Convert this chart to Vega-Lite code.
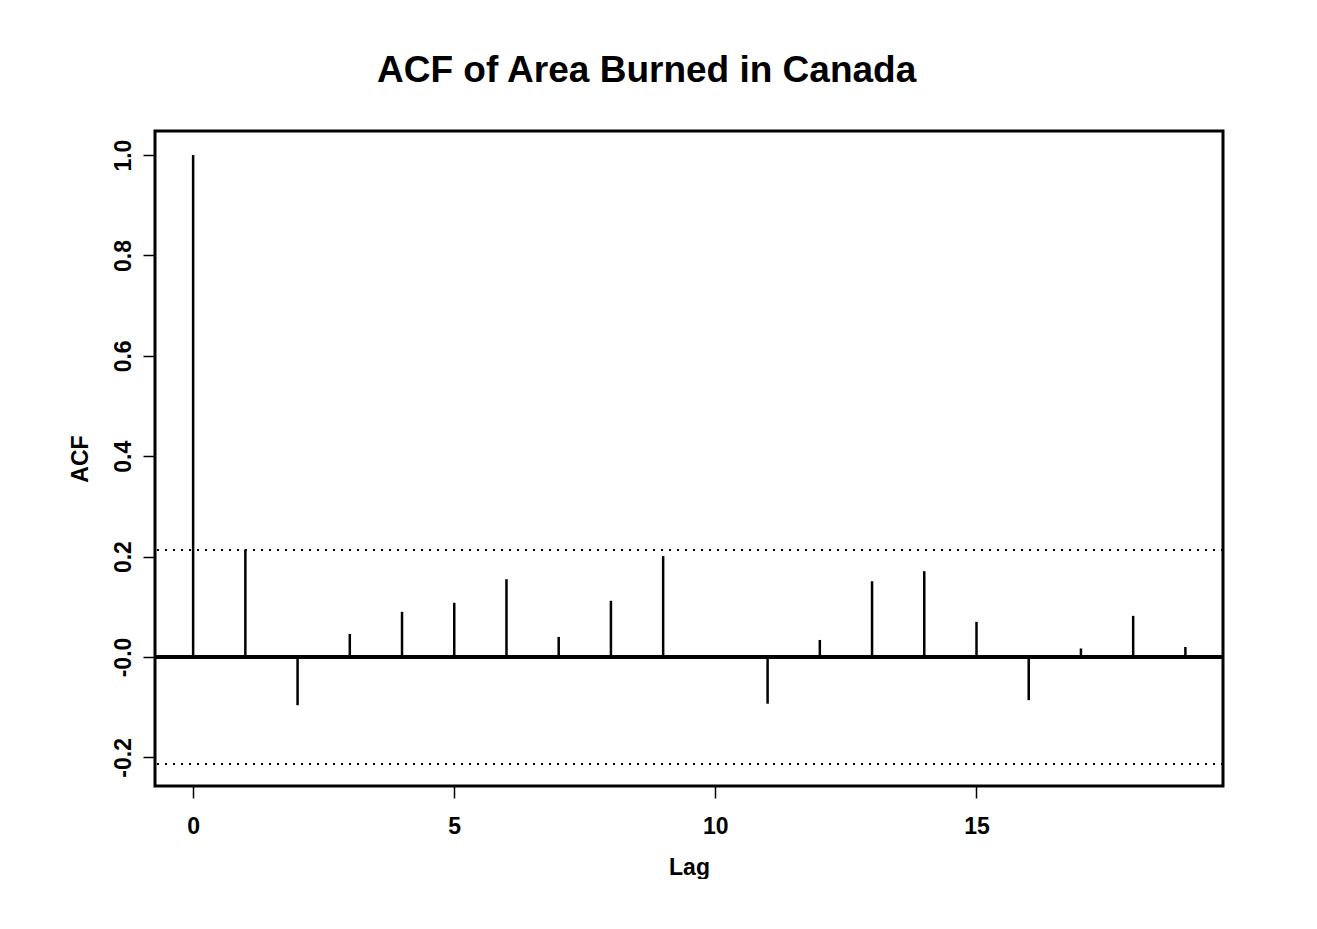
{
  "$schema": "https://vega.github.io/schema/vega-lite/v6.json",
  "width": 1068,
  "height": 655,
  "padding": {"left": 68, "top": 52, "right": 0, "bottom": 0},
  "background": "white",
  "title": {
    "text": "ACF of Area Burned in Canada",
    "frame": "bounds",
    "anchor": "middle",
    "font": "Liberation Sans",
    "fontSize": 37,
    "fontWeight": "bold",
    "color": "black",
    "offset": 41
  },
  "config": {
    "view": {"stroke": "black", "strokeWidth": 3},
    "font": "Liberation Sans",
    "axis": {
      "grid": false,
      "domain": false,
      "tickColor": "black",
      "tickWidth": 1.5,
      "tickSize": 12,
      "labelColor": "black",
      "labelFont": "Liberation Sans",
      "labelFontSize": 23,
      "labelFontWeight": "bold",
      "titleColor": "black",
      "titleFont": "Liberation Sans",
      "titleFontSize": 23,
      "titleFontWeight": "bold"
    }
  },
  "datasets": {
    "acf": [
      {"lag": 0, "acf": 1.0},
      {"lag": 1, "acf": 0.214},
      {"lag": 2, "acf": -0.096},
      {"lag": 3, "acf": 0.046},
      {"lag": 4, "acf": 0.090},
      {"lag": 5, "acf": 0.108},
      {"lag": 6, "acf": 0.155},
      {"lag": 7, "acf": 0.040},
      {"lag": 8, "acf": 0.112},
      {"lag": 9, "acf": 0.201},
      {"lag": 10, "acf": -0.004},
      {"lag": 11, "acf": -0.093},
      {"lag": 12, "acf": 0.034},
      {"lag": 13, "acf": 0.151},
      {"lag": 14, "acf": 0.171},
      {"lag": 15, "acf": 0.070},
      {"lag": 16, "acf": -0.086},
      {"lag": 17, "acf": 0.017},
      {"lag": 18, "acf": 0.082},
      {"lag": 19, "acf": 0.020}
    ],
    "ci": [
      {"bound": 0.213},
      {"bound": -0.213}
    ]
  },
  "layer": [
    {
      "data": {"name": "acf"},
      "mark": {"type": "rule", "color": "black", "strokeWidth": 2.5},
      "encoding": {
        "x": {
          "field": "lag",
          "type": "quantitative",
          "scale": {"domain": [-0.73, 19.72], "nice": false, "zero": false},
          "axis": {"values": [0, 5, 10, 15], "title": "Lag", "labelPadding": 17, "titlePadding": 18, "labelAngle": 0}
        },
        "y": {
          "field": "acf",
          "type": "quantitative",
          "scale": {"domain": [-0.257, 1.048], "nice": false, "zero": false},
          "axis": {
            "values": [-0.2, 0, 0.2, 0.4, 0.6, 0.8, 1.0],
            "labelExpr": "datum.value == 0 ? '-0.0' : (datum.value < 0 ? '-' + format(-datum.value, '.1f') : format(datum.value, '.1f'))",
            "labelAngle": -90,
            "labelPadding": 8,
            "title": "ACF",
            "titlePadding": 20
          }
        },
        "y2": {"datum": 0}
      }
    },
    {
      "data": {"name": "acf"},
      "mark": {"type": "rule", "color": "black", "strokeWidth": 2.5},
      "encoding": {"y": {"datum": 0}}
    },
    {
      "data": {"name": "ci"},
      "mark": {"type": "rule", "color": "black", "strokeWidth": 2, "strokeDash": [2, 6]},
      "encoding": {"y": {"field": "bound", "type": "quantitative"}}
    }
  ]
}
